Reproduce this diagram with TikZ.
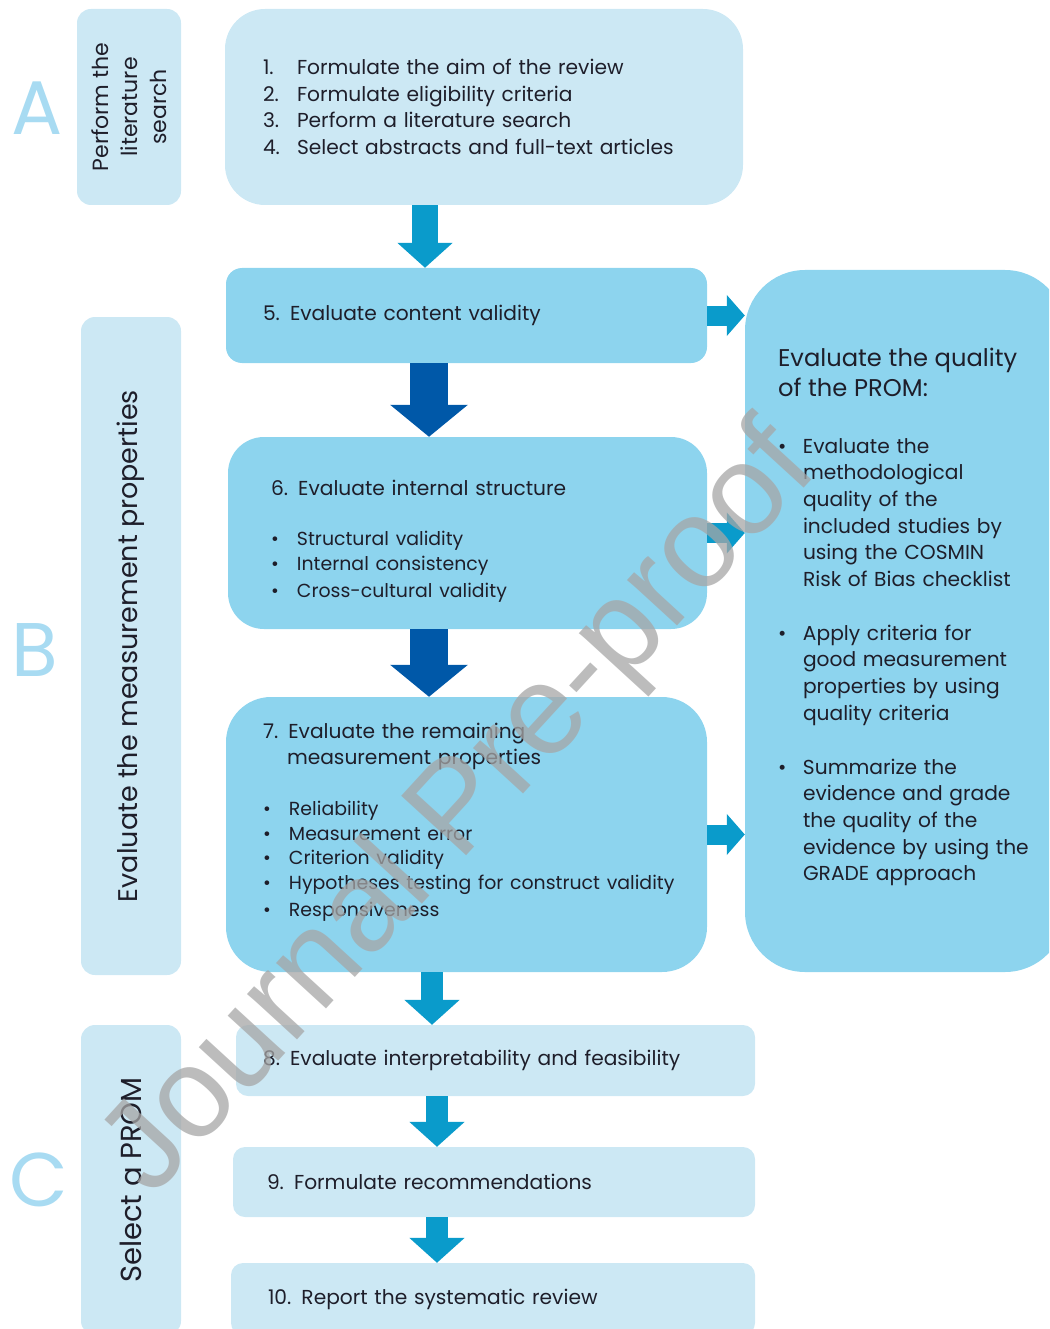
\documentclass[tikz,border=0pt]{standalone}
\usepackage{fontspec}
\setmainfont{Poppins}
\newfontfamily\wmfont{Liberation Sans}
\usetikzlibrary{arrows.meta, positioning}
\usepackage{xcolor}

\definecolor{palebox}{HTML}{CCE8F4}
\definecolor{midbox}{HTML}{8DD4EE}
\definecolor{arrmid}{HTML}{0A9BCB}
\definecolor{arrdark}{HTML}{0058A8}
\definecolor{lettercol}{HTML}{A8DBF2}
\definecolor{inkcol}{HTML}{1E1E2A}

\newcommand{\pnum}[2]{\makebox[34pt][l]{#1}\mbox{#2}}
\newcommand{\pitem}[1]{\makebox[26pt][l]{\textbullet}\mbox{#1}}
\newcommand{\qitem}[1]{\makebox[25pt][l]{\textbullet}\mbox{#1}}
\newcommand{\pind}{\hspace*{25pt}}

\begin{document}
\begin{tikzpicture}[
  x=1pt, y=-1pt,
  txt/.style={font=\fontsize{20.2}{26.7}\selectfont, text=inkcol},
  pale/.style={fill=palebox, inner sep=0pt, align=left, txt},
  mid/.style={fill=midbox, inner sep=0pt, align=left, txt},
  side/.style={fill=palebox, inner sep=0pt, rounded corners=14pt, rotate=90, align=center, text=inkcol},
  letter/.style={font=\fontsize{76}{76}\selectfont, text=lettercol},
  downarr/.style={draw=arrmid, line width=22pt, -{Triangle[length=25pt, width=54pt]}},
  darkarr/.style={draw=arrdark, line width=38pt, -{Triangle[length=32pt, width=76pt]}},
  sidearr/.style={draw=arrmid, line width=20pt, -{Triangle[length=18pt, width=40pt]}}
]
\useasboundingbox (0,0) rectangle (1049,1329);
\clip (0,0) rectangle (1049,1329);

% phase letters
\node[letter] (la) at (37,108) {A};
\node[letter] (lb) at (35,650) {B};
\node[letter] (lc) at (39,1180) {C};

% phase labels
\node[side, minimum width=196pt, minimum height=104pt, font=\fontsize{22}{29}\selectfont] (sa) at (129,107) {Perform the\\literature\\search};
\node[side, minimum width=658pt, minimum height=100pt, font=\fontsize{27}{30}\selectfont] (sb) at (131,646) {Evaluate the measurement properties};
\node[side, minimum width=310pt, minimum height=100pt, font=\fontsize{29}{30}\selectfont] (sc) at (131,1180) {Select a PROM};

% steps
\node[pale, rounded corners=40pt, minimum width=518pt, minimum height=196pt, text width=442pt] (s1) at (484,107)
  {\pnum{1.}{Formulate the aim of the review}\\
   \pnum{2.}{Formulate eligibility criteria}\\
   \pnum{3.}{Perform a literature search}\\
   \pnum{4.}{Select abstracts and full-text articles}};
\node[mid, rounded corners=16pt, minimum width=481pt, minimum height=95pt, text width=407pt] (s5) at (466.5,315.5)
  {5. Evaluate content validity};
\node[mid, rounded corners=36pt, minimum width=479pt, minimum height=192pt, text width=393pt] (s6) at (467.5,533)
  {\rule{0pt}{31pt}6. Evaluate internal structure\\[26pt]
   {\fontsize{18.9}{24.7}\selectfont
   \pitem{Structural validity}\\
   \pitem{Internal consistency}\\
   \pitem{Cross-cultural validity}}};
\node[mid, rounded corners=45pt, minimum width=481pt, minimum height=275pt, text width=407pt] (s7) at (466.5,834.5)
  {7. Evaluate the remaining\\
   \hspace*{24pt}measurement properties\\[26pt]
   {\fontsize{18.9}{24.7}\selectfont
   \pitem{Reliability}\\
   \pitem{Measurement error}\\
   \pitem{Criterion validity}\\
   \pitem{Hypotheses testing for construct validity}\\
   \pitem{Responsiveness}\rule[-30pt]{0pt}{0pt}}};
\node[pale, rounded corners=12pt, minimum width=519pt, minimum height=71pt, text width=465pt] (s8) at (495.5,1060.5)
  {8. Evaluate interpretability and feasibility};
\node[pale, rounded corners=12pt, minimum width=522pt, minimum height=70pt, text width=454pt] (s9) at (494,1182)
  {9. Formulate recommendations};
\node[pale, rounded corners=12pt, minimum width=524pt, minimum height=72pt, text width=450pt] (s10) at (493,1299)
  {10. Report the systematic review};

% quality box
\node[mid, rounded corners=60pt, minimum width=320pt, minimum height=702pt, text width=254pt] (prom) at (905,621)
  {{\fontsize{24.2}{31}\selectfont Evaluate the quality\\[3pt] of the PROM:}\\[30pt]
   \qitem{Evaluate the}\\
   \pind methodological\\
   \pind quality of the\\
   \pind included studies by\\
   \pind using the COSMIN\\
   \pind Risk of Bias checklist\\[27pt]
   \qitem{Apply criteria for}\\
   \pind good measurement\\
   \pind properties by using\\
   \pind quality criteria\\[27pt]
   \qitem{Summarize the}\\
   \pind evidence and grade\\
   \pind the quality of the\\
   \pind evidence by using the\\
   \pind GRADE approach\rule[-13pt]{0pt}{0pt}};

% column positions of the down arrows
\coordinate (c1) at (425,0);
\coordinate (c2) at (429,0);
\coordinate (c3) at (432,0);
\coordinate (c4) at (437,0);

\draw[downarr, line width=26pt] (s1.south -| c1) -- (s5.north -| c1);
\draw[darkarr] (s5.south -| c2) -- (s6.north -| c2);
\draw[darkarr] (s6.south -| c2) -- (s7.north -| c2);
\draw[downarr] (s7.south -| c3) -- (s8.north -| c3);
\draw[downarr] (s8.south -| c4) -- (s9.north -| c4);
\draw[downarr] (s9.south -| c4) -- (s10.north -| c4);

\draw[sidearr] (s5.east) -- (s5.east -| prom.west);
\draw[sidearr] (s6.east) -- (s6.east -| prom.west);
\draw[sidearr] (s7.east) -- (s7.east -| prom.west);

% watermark
\node[rotate=47.5, font=\wmfont\fontsize{128}{128}\selectfont, text=gray!70, opacity=0.75] (wm) at (462,812) {Journal Pre-proof};
\end{tikzpicture}
\end{document}
